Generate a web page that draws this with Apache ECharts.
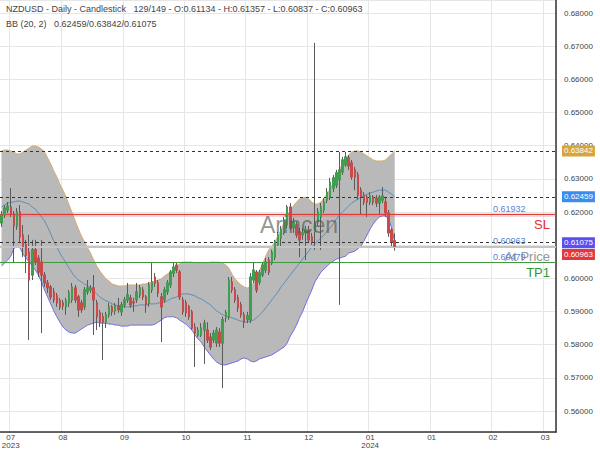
<!DOCTYPE html>
<html><head><meta charset="utf-8">
<script src="https://cdn.jsdelivr.net/npm/echarts@6/dist/echarts.min.js"></script>
<style>html,body{margin:0;padding:0;background:#fff}#c{width:600px;height:450px}</style>
</head><body><div id="c"></div>
<script>
const FONT = 'Liberation Sans, Arial, sans-serif';
const headerLine1 = 'NZDUSD - Daily - Candlestick   129/149 - O:0.61134 - H:0.61357 - L:0.60837 - C:0.60963';
const headerLine2 = 'BB (20, 2)   0.62459/0.63842/0.61075';
const watermark = 'Arincen';

const slotCount = 181;
const tickIndex = [3, 20, 40, 60, 80, 100, 120, 140, 160, 177];
const tickLabels = ['07\n2023', '08', '09', '10', '11', '12', '01\n2024', '01', '02', '03'];

const open = [
0.6167,0.6191,0.6206,0.6215,0.6194,0.6158,0.6200,0.6131,0.6101,0.6079,
0.6010,0.6086,0.6061,0.6049,0.6010,0.5986,0.5974,0.5959,0.5947,0.5932,
0.5926,0.5914,0.5926,0.5935,0.5971,0.5944,0.5926,0.5914,0.5959,0.5965,
0.5971,0.5926,0.5896,0.5884,0.5868,0.5890,0.5914,0.5902,0.5917,0.5899,
0.5920,0.5935,0.5941,0.5929,0.5935,0.5950,0.5965,0.5944,0.5926,0.5965,
0.6004,0.5986,0.5944,0.5935,0.5959,0.5980,0.6016,0.6040,0.6019,0.5935,
0.5926,0.5914,0.5899,0.5853,0.5829,0.5829,0.5844,0.5844,0.5823,0.5814,
0.5805,0.5838,0.5805,0.5881,0.5884,0.5989,0.5965,0.5941,0.5920,0.5890,
0.5875,0.5875,0.5995,0.6019,0.5989,0.6010,0.6025,0.6055,0.6046,0.6064,
0.6101,0.6122,0.6137,0.6161,0.6215,0.6152,0.6161,0.6140,0.6131,0.6137,
0.6146,0.6125,0.6140,0.6170,0.6185,0.6206,0.6236,0.6245,0.6272,0.6281,
0.6297,0.6321,0.6342,0.6363,0.6348,0.6327,0.6312,0.6266,0.6251,0.6245,
0.6230,0.6245,0.6242,0.6227,0.6236,0.6230,0.6197,0.6146,0.61134];
const close = [
0.6191,0.6212,0.6218,0.6194,0.6158,0.6200,0.6125,0.6095,0.6070,0.5995,
0.6086,0.6049,0.6019,0.6010,0.5986,0.5971,0.5944,0.5935,0.5926,0.5914,
0.5917,0.5932,0.5956,0.5974,0.5935,0.5905,0.5905,0.5965,0.5971,0.5971,
0.5935,0.5884,0.5868,0.5868,0.5890,0.5914,0.5899,0.5917,0.5905,0.5920,
0.5935,0.5950,0.5920,0.5926,0.5959,0.5971,0.5944,0.5920,0.5980,0.5989,
0.5986,0.5956,0.5914,0.5965,0.5986,0.6019,0.6034,0.6025,0.5944,0.5899,
0.5896,0.5884,0.5850,0.5835,0.5844,0.5850,0.5865,0.5814,0.5793,0.5835,
0.5844,0.5805,0.5875,0.5896,0.5995,0.5965,0.5935,0.5911,0.5890,0.5868,
0.5887,0.6004,0.6025,0.5965,0.6016,0.6040,0.6049,0.6019,0.6079,0.6110,
0.6131,0.6146,0.6176,0.6215,0.6152,0.6170,0.6131,0.6116,0.6137,0.6146,
0.6116,0.6110,0.6164,0.6200,0.6215,0.6230,0.6260,0.6290,0.6303,0.6318,
0.6327,0.6357,0.6366,0.6339,0.6306,0.6306,0.6251,0.6245,0.6230,0.6230,
0.6248,0.6230,0.6227,0.6245,0.6248,0.6197,0.6137,0.6110,0.60963];
const high = [
0.6203,0.6221,0.6230,0.6272,0.6203,0.6212,0.6221,0.6161,0.6116,0.6131,
0.6116,0.6116,0.6070,0.6116,0.6019,0.5995,0.5980,0.5971,0.5956,0.5941,
0.5935,0.5941,0.5965,0.5986,0.5980,0.5950,0.5935,0.5974,0.5995,0.5980,
0.6010,0.5935,0.5905,0.5896,0.5899,0.5926,0.5920,0.5926,0.5941,0.5929,
0.5944,0.5986,0.5950,0.5941,0.5986,0.5980,0.5974,0.5950,0.5989,0.6046,
0.6016,0.5995,0.5956,0.5974,0.5995,0.6025,0.6046,0.6049,0.6025,0.5944,
0.5935,0.5920,0.5905,0.5865,0.5853,0.5865,0.5875,0.5868,0.5835,0.5844,
0.5853,0.5850,0.5884,0.5905,0.6004,0.6004,0.5974,0.5950,0.5929,0.5899,
0.5899,0.6016,0.6049,0.6025,0.6025,0.6049,0.6061,0.6064,0.6086,0.6116,
0.6140,0.6158,0.6185,0.6221,0.6227,0.6182,0.6170,0.6152,0.6152,0.6158,
0.6158,0.6137,0.6710,0.6212,0.6227,0.6242,0.6272,0.6303,0.6312,0.6327,
0.6381,0.6366,0.6381,0.6372,0.6357,0.6336,0.6321,0.6275,0.6260,0.6251,
0.6260,0.6251,0.6251,0.6251,0.6275,0.6242,0.6206,0.6152,0.61357];
const low = [
0.6155,0.6182,0.6197,0.6185,0.6049,0.6146,0.6110,0.6064,0.6016,0.5814,
0.5995,0.6040,0.6004,0.5835,0.5974,0.5956,0.5935,0.5926,0.5914,0.5905,
0.5905,0.5890,0.5914,0.5926,0.5926,0.5884,0.5896,0.5905,0.5950,0.5956,
0.5829,0.5844,0.5853,0.5754,0.5850,0.5881,0.5887,0.5890,0.5896,0.5887,
0.5911,0.5926,0.5911,0.5899,0.5926,0.5941,0.5935,0.5896,0.5914,0.5956,
0.5974,0.5944,0.5808,0.5926,0.5950,0.5971,0.6004,0.6016,0.5935,0.5890,
0.5884,0.5875,0.5844,0.5733,0.5823,0.5823,0.5742,0.5805,0.5784,0.5805,
0.5793,0.5793,0.5669,0.5868,0.5875,0.5956,0.5926,0.5899,0.5881,0.5850,
0.5865,0.5865,0.5986,0.5956,0.5980,0.6004,0.6016,0.6010,0.6040,0.6055,
0.6092,0.6092,0.6131,0.6152,0.6146,0.6137,0.6122,0.6064,0.6116,0.6055,
0.6107,0.6101,0.6086,0.6158,0.6086,0.6197,0.6227,0.6236,0.6260,0.6272,
0.5920,0.6312,0.6336,0.6327,0.6297,0.6266,0.6236,0.6191,0.6221,0.6185,
0.6221,0.6221,0.6215,0.6191,0.6227,0.6185,0.6125,0.6092,0.60837];

const bbUpper = [
0.6384,0.6387,0.6387,0.6384,0.6381,0.6375,0.6375,0.6381,0.6387,0.6393,
0.6399,0.6399,0.6396,0.6390,0.6381,0.6363,0.6345,0.6324,0.6306,0.6284,
0.6266,0.6245,0.6221,0.6197,0.6173,0.6149,0.6128,0.6110,0.6092,0.6076,
0.6055,0.6037,0.6022,0.6010,0.5998,0.5992,0.5983,0.5980,0.5977,0.5977,
0.5977,0.5980,0.5980,0.5980,0.5980,0.5980,0.5983,0.5983,0.5986,0.5989,
0.5992,0.5995,0.5998,0.6007,0.6013,0.6019,0.6028,0.6037,0.6043,0.6049,
0.6049,0.6049,0.6049,0.6046,0.6046,0.6046,0.6046,0.6046,0.6049,0.6049,
0.6049,0.6049,0.6046,0.6040,0.6031,0.6013,0.5998,0.5989,0.5980,0.5974,
0.5971,0.5974,0.5986,0.6004,0.6025,0.6043,0.6067,0.6086,0.6097,0.6110,
0.6128,0.6146,0.6170,0.6188,0.6206,0.6218,0.6230,0.6239,0.6242,0.6245,
0.6239,0.6230,0.6224,0.6224,0.6230,0.6242,0.6254,0.6269,0.6287,0.6308,
0.6327,0.6345,0.6360,0.6372,0.6381,0.6384,0.6384,0.6381,0.6375,0.6369,
0.6363,0.6357,0.6354,0.6354,0.6354,0.6357,0.6366,0.6375,0.63842];
const bbMiddle = [
0.6215,0.6221,0.6227,0.6230,0.6230,0.6233,0.6233,0.6230,0.6227,0.6224,
0.6215,0.6209,0.6197,0.6185,0.6173,0.6155,0.6134,0.6113,0.6095,0.6076,
0.6061,0.6046,0.6031,0.6016,0.6004,0.5995,0.5989,0.5983,0.5977,0.5971,
0.5962,0.5953,0.5944,0.5938,0.5932,0.5929,0.5923,0.5920,0.5917,0.5917,
0.5914,0.5914,0.5914,0.5917,0.5917,0.5920,0.5920,0.5920,0.5923,0.5923,
0.5923,0.5926,0.5926,0.5929,0.5932,0.5938,0.5941,0.5944,0.5950,0.5953,
0.5953,0.5953,0.5950,0.5947,0.5941,0.5938,0.5932,0.5926,0.5920,0.5911,
0.5902,0.5896,0.5890,0.5887,0.5884,0.5881,0.5878,0.5874,0.5871,0.5868,
0.5868,0.5871,0.5874,0.5881,0.5890,0.5899,0.5911,0.5923,0.5935,0.5947,
0.5959,0.5974,0.5986,0.5998,0.6010,0.6022,0.6034,0.6046,0.6058,0.6070,
0.6082,0.6095,0.6104,0.6113,0.6122,0.6131,0.6143,0.6152,0.6164,0.6179,
0.6191,0.6200,0.6209,0.6218,0.6227,0.6233,0.6239,0.6245,0.6248,0.6254,
0.6257,0.6260,0.6263,0.6266,0.6266,0.6266,0.6260,0.6254,0.62459];
const bbLower = [
0.6037,0.6046,0.6055,0.6067,0.6089,0.6097,0.6092,0.6073,0.6061,0.6049,
0.6037,0.6025,0.6010,0.5989,0.5965,0.5944,0.5923,0.5902,0.5884,0.5868,
0.5853,0.5844,0.5838,0.5835,0.5835,0.5841,0.5847,0.5853,0.5859,0.5862,
0.5865,0.5868,0.5865,0.5865,0.5865,0.5862,0.5862,0.5859,0.5859,0.5856,
0.5856,0.5856,0.5859,0.5859,0.5859,0.5859,0.5859,0.5859,0.5859,0.5859,
0.5862,0.5868,0.5874,0.5881,0.5884,0.5884,0.5884,0.5881,0.5874,0.5868,
0.5862,0.5853,0.5844,0.5829,0.5817,0.5808,0.5793,0.5781,0.5769,0.5757,
0.5748,0.5742,0.5739,0.5739,0.5742,0.5745,0.5748,0.5751,0.5757,0.5760,
0.5757,0.5751,0.5748,0.5751,0.5757,0.5760,0.5763,0.5766,0.5769,0.5775,
0.5781,0.5787,0.5793,0.5805,0.5826,0.5841,0.5859,0.5881,0.5899,0.5923,
0.5944,0.5965,0.5989,0.6004,0.6019,0.6028,0.6037,0.6046,0.6052,0.6058,
0.6061,0.6064,0.6067,0.6076,0.6079,0.6082,0.6089,0.6097,0.6113,0.6131,
0.6149,0.6164,0.6176,0.6185,0.6188,0.6188,0.6179,0.6152,0.61075];

const levelBBUpper = 0.63842;
const levelBBMiddle = 0.62459;
const levelBBLower = 0.61075;
const levelPrice = 0.60963;
const levelSL = 0.61932;
const levelTP1 = 0.60479;
const yMin = 0.55367, yMax = 0.68392;

const categories = Array.from({length: slotCount}, (_, i) => String(i));
const tickMap = {};
tickIndex.forEach((t, k) => { tickMap[t] = tickLabels[k]; });
const isTick = (i) => tickMap[i] !== undefined;

const wickData = open.map((o, i) => [o, close[i], low[i], high[i]]);
const bodyData = open.map((o, i) => [o, close[i], Math.min(o, close[i]), Math.max(o, close[i])]);
const bandWidth = bbUpper.map((u, i) => +(u - bbLower[i]).toFixed(6));

const clear = 'rgba(255,255,255,0)';
const dash = {type: [3, 3], color: '#333', width: 1};
function badge(value, bg, offsetY) {
  return {show: true, position: 'end', distance: 6, formatter: value.toFixed(5),
    backgroundColor: bg, color: '#fff', fontSize: 8, fontFamily: FONT,
    padding: [2, 2, 1, 2], offset: [0, offsetY || 0]};
}
function nameLabel(text, color) {
  return {show: true, position: 'insideEndBottom', distance: [6, 4], formatter: text,
    color: color, fontSize: 13, fontFamily: FONT};
}
function valueLabel(value) {
  return [{coord: [160, value], lineStyle: {color: clear, width: 0.1},
    label: {show: true, position: 'insideStartTop', distance: [0, 1], formatter: value.toFixed(5),
      color: '#5a7fd8', fontSize: 9, fontFamily: FONT}},
    {coord: [180, value]}];
}

const chart = echarts.init(document.getElementById('c'), null, {renderer: 'svg', width: 600, height: 450});
chart.setOption({
  animation: false,
  backgroundColor: '#fff',
  grid: {left: 0, right: 44, top: 0, bottom: 18, outerBoundsMode: 'none', containLabel: false},
  graphic: [
    {type: 'text', x: 6, y: 4, z: 100, style: {text: headerLine1, fontSize: 9, fontFamily: FONT, fill: '#444'}},
    {type: 'text', x: 6, y: 19, z: 100, style: {text: headerLine2, fontSize: 9, fontFamily: FONT, fill: '#444'}},
    {type: 'text', x: 299, y: 225, z: 100, style: {text: watermark, fontSize: 23, fontFamily: FONT,
      fill: 'rgba(80,80,80,0.62)', align: 'center', verticalAlign: 'middle'}}
  ],
  xAxis: {
    type: 'category', data: categories, boundaryGap: true,
    axisLine: {show: true, lineStyle: {color: '#333', width: 1.5}},
    axisTick: {show: false},
    axisLabel: {interval: (i) => isTick(i), formatter: (v, i) => tickMap[i] || '',
      fontSize: 8, lineHeight: 7.5, color: '#444', fontFamily: FONT, margin: 2},
    splitLine: {show: true, interval: (i) => isTick(i), lineStyle: {color: '#e6e6e6', width: 1}}
  },
  yAxis: {
    type: 'value', position: 'right', min: yMin, max: yMax, scale: true,
    splitNumber: 13, minInterval: 0.01, maxInterval: 0.01,
    axisLine: {show: true, lineStyle: {color: '#333', width: 1.5}},
    axisTick: {show: false},
    axisLabel: {showMinLabel: false, showMaxLabel: false, formatter: (v) => v.toFixed(5),
      fontSize: 8, color: '#444', fontFamily: FONT, margin: 8},
    splitLine: {show: true, lineStyle: {color: '#e6e6e6', width: 1}}
  },
  series: [
    {type: 'line', name: 'bbBase', data: bbLower, stack: 'bb', symbol: 'none', silent: true,
      lineStyle: {opacity: 0}, z: 1},
    {type: 'line', name: 'bbFill', data: bandWidth, stack: 'bb', symbol: 'none', silent: true,
      lineStyle: {opacity: 0}, areaStyle: {color: '#b9b9b9', opacity: 1}, z: 1},
    {type: 'line', name: 'upper', data: bbUpper, symbol: 'none', silent: true,
      lineStyle: {color: '#d6ad68', width: 1}, z: 3},
    {type: 'line', name: 'middle', data: bbMiddle, symbol: 'none', silent: true,
      lineStyle: {color: '#5e8fb6', width: 1}, z: 3},
    {type: 'line', name: 'lower', data: bbLower, symbol: 'none', silent: true,
      lineStyle: {color: '#6e6ee6', width: 1}, z: 3},
    {type: 'candlestick', name: 'wick', data: wickData, barWidth: 2, silent: true, z: 4,
      itemStyle: {color: 'rgba(0,0,0,0)', color0: 'rgba(0,0,0,0)', borderColor: '#5a5a5a', borderColor0: '#5a5a5a', borderWidth: 1},
      markLine: {
        symbol: ['none', 'none'], silent: true, animation: false, precision: 5,
        data: [
          {yAxis: levelBBUpper, lineStyle: dash, label: badge(levelBBUpper, '#d8a53c')},
          {yAxis: levelBBMiddle, lineStyle: dash, label: badge(levelBBMiddle, '#3a8df0')},
          {yAxis: levelPrice, lineStyle: {type: 'solid', color: '#c4c4c4', width: 2}, label: badge(levelPrice, '#e2383a', 8)},
          {yAxis: levelBBLower, lineStyle: dash, label: badge(levelBBLower, '#5b4ff0')},
          {yAxis: levelSL, lineStyle: {type: 'solid', color: 'rgba(226,60,60,0.18)', width: 4}, label: {show: false}},
          {yAxis: levelSL, lineStyle: {type: 'solid', color: '#e03c3c', width: 1.2}, label: nameLabel('SL', '#e03030')},
          {yAxis: levelPrice, lineStyle: {color: clear, width: 0.1}, label: nameLabel('At Price', '#959595')},
          {yAxis: levelTP1, lineStyle: {type: 'solid', color: '#3f9a3f', width: 1.2}, label: nameLabel('TP1', '#2f9a2f')},
          valueLabel(levelSL),
          valueLabel(levelPrice),
          valueLabel(levelTP1)
        ]
      }
    },
    {type: 'candlestick', name: 'body', data: bodyData, barWidth: 2, silent: true, z: 5,
      itemStyle: {color: '#3f9e4f', color0: '#c84a4a', borderColor: '#3f9e4f', borderColor0: '#c84a4a', borderWidth: 1}}
  ]
});
</script>
</body></html>
